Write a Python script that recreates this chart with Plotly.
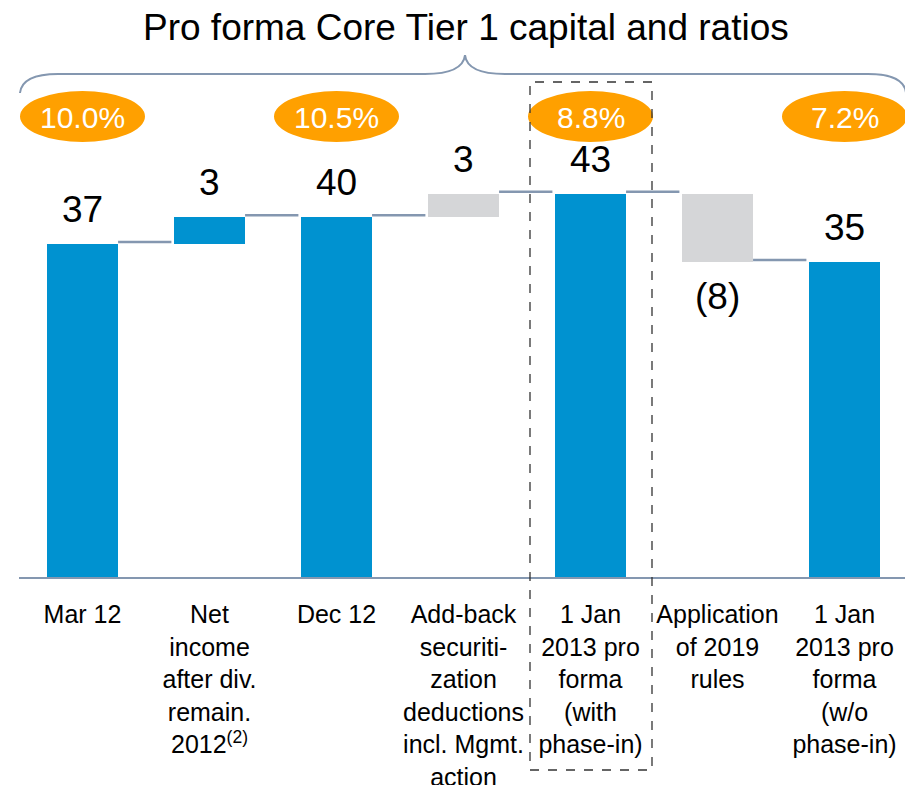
import plotly.graph_objects as go

# ── Data ─────────────────────────────────────────────────────────────────
categories = [
    "Mar 12",
    "Net<br>income<br>after div.<br>remain.<br>2012<sup>(2)</sup>",
    "Dec 12",
    "Add-back<br>securiti-<br>zation<br>deductions<br>incl. Mgmt.<br>action",
    "1 Jan<br>2013 pro<br>forma<br>(with<br>phase-in)",
    "Application<br>of 2019<br>rules",
    "1 Jan<br>2013 pro<br>forma<br>(w/o<br>phase-in)",
]
measures = ["absolute", "relative", "absolute", "relative", "absolute", "relative", "absolute"]
values = [37.0, 3.0, 40.0, 2.6, 42.6, -7.6, 35.0]
value_labels = ["37", "3", "40", "3", "43", "(8)", "35"]
ratios = ["10.0%", None, "10.5%", None, "8.8%", None, "7.2%"]
title_text = "Pro forma Core Tier 1 capital and ratios"

BLUE = "#0092D0"
GREY = "#D5D6D8"
LINE = "#8497B0"
ORANGE = "#FFA000"
FONT = "Liberation Sans, Arial, sans-serif"

OFF = 8  # page body margin
W, H = 905, 777
L, R, T, B = 11, 5, 37, 208
PW, PH = W - L - R, H - T - B
BAR_W = 0.56


def paper(x, y):
    """screen pixel -> paper coords"""
    return (x - OFF - L) / PW, (H - B - (y - OFF)) / PH


# ── Bars (floating) ──────────────────────────────────────────────────────
bases, heights, colors, tops, levels = [], [], [], [], []
running = 0.0
for m, v in zip(measures, values):
    if m == "absolute":
        base, h = 0.0, v
        running = v
        color = BLUE
    else:
        base = running if v >= 0 else running + v
        h = abs(v)
        running += v
        color = BLUE if v > 0 and len(bases) == 1 else GREY
    bases.append(base)
    heights.append(h)
    colors.append(color)
    tops.append(base + h)
    levels.append(running)

x = list(range(len(categories)))

fig = go.Figure()
fig.add_trace(go.Bar(
    x=x, y=heights, base=bases, width=BAR_W,
    marker=dict(color=colors, line=dict(width=0)),
    hoverinfo="skip", showlegend=False,
))

# connectors
cx, cy = [], []
for i in range(len(x) - 1):
    cx += [i + BAR_W / 2, i + 1 - BAR_W / 2 - 0.02, None]
    cy += [levels[i] + 0.25, levels[i] + 0.25, None]
fig.add_trace(go.Scatter(
    x=cx, y=cy, mode="lines", line=dict(color=LINE, width=2.5),
    hoverinfo="skip", showlegend=False,
))

# ── Value labels ─────────────────────────────────────────────────────────
for i, (lab, v) in enumerate(zip(value_labels, values)):
    if v >= 0:
        fig.add_annotation(x=i, y=tops[i], text=lab, showarrow=False,
                           yanchor="bottom", yshift=12,
                           font=dict(size=37, color="black", family=FONT))
    else:
        fig.add_annotation(x=i, y=bases[i], text=lab, showarrow=False,
                           yanchor="top", yshift=-12,
                           font=dict(size=37, color="black", family=FONT))

# ── Ratio ellipses ───────────────────────────────────────────────────────
shapes = []
_, ey0 = paper(0, 142)
_, ey1 = paper(0, 91)
_, ecy = paper(0, 117)
half = 62.5 / PW
for i, r in enumerate(ratios):
    if r is None:
        continue
    xc = (i + 0.5) / len(x)
    shapes.append(dict(type="circle", xref="paper", yref="paper",
                       x0=xc - half, x1=xc + half, y0=ey0, y1=ey1,
                       fillcolor=ORANGE, line=dict(width=0), layer="above"))
    fig.add_annotation(x=i, xref="x", y=ecy, yref="paper", text=r,
                       showarrow=False, yanchor="middle",
                       font=dict(size=30, color="white", family=FONT))

# ── Brace ────────────────────────────────────────────────────────────────
def pt(x_, y_):
    a, b = paper(x_, y_)
    return f"{a:.4f},{b:.4f}"

brace = (
    f"M {pt(20, 93)} Q {pt(22, 74)} {pt(58, 74)} L {pt(425, 74)} "
    f"Q {pt(463, 74)} {pt(465, 55)} Q {pt(467, 74)} {pt(505, 74)} "
    f"L {pt(868, 74)} Q {pt(904, 74)} {pt(906, 93)}"
)
shapes.append(dict(type="path", xref="paper", yref="paper", path=brace,
                   line=dict(color=LINE, width=2)))

# dashed highlight box
bx0, by0 = paper(530, 770)
bx1, by1 = paper(652, 82)
shapes.append(dict(type="rect", xref="paper", yref="paper",
                   x0=bx0, x1=bx1, y0=by0, y1=by1,
                   line=dict(color="#333333", width=1.3, dash="dash")))

# title
tx, ty = paper(466, 27)
fig.add_annotation(x=tx, y=ty, xref="paper", yref="paper", text=title_text,
                   showarrow=False, yanchor="middle",
                   font=dict(size=37, color="black", family=FONT))

ymax = PH / 8.99
fig.update_layout(
    width=W, height=H,
    margin=dict(l=L, r=R, t=T, b=B, autoexpand=False),
    paper_bgcolor="white", plot_bgcolor="white",
    shapes=shapes,
    bargap=0,
    xaxis=dict(
        tickvals=x, ticktext=categories, range=[-0.5, len(x) - 0.5],
        showgrid=False, zeroline=False, showline=True,
        linecolor=LINE, linewidth=2, ticks="",
        tickfont=dict(size=25, color="black", family=FONT),
        tickangle=0, automargin=False, ticklabelstandoff=14,
    ),
    yaxis=dict(range=[0, ymax], visible=False, showgrid=False, automargin=False),
)

fig.write_html("out.html")
